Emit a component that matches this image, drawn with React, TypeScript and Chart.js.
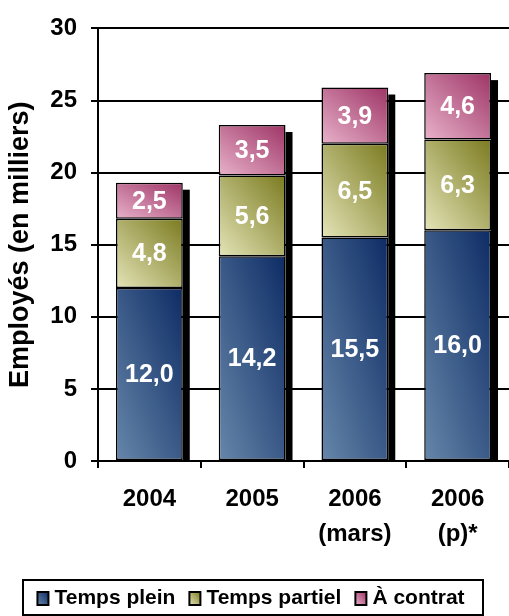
import { useEffect, useRef } from 'react';
import { Chart, registerables } from 'chart.js';

Chart.register(...registerables);

// Employment by status (thousands)
const years: (string | string[])[] = ['2004', '2005', ['2006', '(mars)'], ['2006', '(p)*']];
const tempsPlein = [12.0, 14.2, 15.5, 16.0];
const tempsPartiel = [4.8, 5.6, 6.5, 6.3];
const aContrat = [2.5, 3.5, 3.9, 4.6];
const seriesNames = ['Temps plein', 'Temps partiel', 'À contrat'];
const yTitle = 'Employés (en milliers)';

const series = [tempsPlein, tempsPartiel, aContrat];
// light (bottom-left) → dark (top-right) for each series
const palettes: [string, string][] = [
  ['#6687aa', '#0e2c65'],
  ['#e4e4b8', '#7b7b20'],
  ['#e8b2ca', '#9e3466'],
];

const FONT = "'Liberation Sans', Arial, Helvetica, sans-serif";
const BAR_FRACTION = 0.65;

// Diagonal gradient mapped to a box: 0 at bottom-left corner, 1 at top-right corner
function boxGradient(c: CanvasRenderingContext2D, left: number, top: number, w: number, h: number, light: string, dark: string) {
  const a = 1 / (w * w) + 1 / (h * h);
  const t = 2 / a;
  const x0 = left;
  const y0 = top + h;
  const g = c.createLinearGradient(x0, y0, x0 + t / w, y0 - t / h);
  g.addColorStop(0, light);
  g.addColorStop(1, dark);
  return g;
}

function segmentFill(d: number) {
  return (ctx: any) => {
    const chart = ctx.chart;
    const xs = chart.scales?.x;
    const ys = chart.scales?.y;
    const [light, dark] = palettes[d];
    if (!xs || !ys || ctx.type !== 'data' || !chart.chartArea) return dark;
    const i = ctx.dataIndex;
    let base = 0;
    for (let k = 0; k < d; k++) base += series[k][i];
    const top = base + series[d][i];
    const cx = xs.getPixelForValue(i);
    const w = (xs.width / years.length) * BAR_FRACTION;
    const yTop = ys.getPixelForValue(top);
    const yBase = ys.getPixelForValue(base);
    return boxGradient(chart.ctx, cx - w / 2, yTop, w, Math.max(1, yBase - yTop), light, dark);
  };
}

const fmt = (v: number) => v.toFixed(1).replace('.', ',');

// Black drop shadow on the right side of each stacked column
const shadowPlugin = {
  id: 'columnShadow',
  beforeDatasetsDraw(chart: any) {
    const n = chart.data.datasets.length;
    const first = chart.getDatasetMeta(0);
    const last = chart.getDatasetMeta(n - 1);
    const c = chart.ctx as CanvasRenderingContext2D;
    c.save();
    c.fillStyle = '#000';
    last.data.forEach((bar: any, i: number) => {
      const { x, y, width } = bar.getProps(['x', 'y', 'width'], true);
      const { base } = first.data[i].getProps(['base'], true);
      const off = 7;
      c.fillRect(x + width / 2, y + off, off, base - y - off);
    });
    c.restore();
  },
};

// Values written in the middle of every segment
const valueLabelPlugin = {
  id: 'segmentValues',
  afterDatasetsDraw(chart: any) {
    const c = chart.ctx as CanvasRenderingContext2D;
    c.save();
    c.fillStyle = '#ffffff';
    c.font = `bold 25px ${FONT}`;
    c.textAlign = 'center';
    c.textBaseline = 'middle';
    chart.data.datasets.forEach((ds: any, d: number) => {
      const meta = chart.getDatasetMeta(d);
      meta.data.forEach((bar: any, i: number) => {
        const { x, y, base } = bar.getProps(['x', 'y', 'base'], true);
        c.fillText(fmt(ds.data[i]), x, (y + base) / 2 + 1);
      });
    });
    c.restore();
  },
};

// Boxed legend along the bottom
const boxedLegendPlugin = {
  id: 'boxedLegend',
  afterDraw(chart: any) {
    const c = chart.ctx as CanvasRenderingContext2D;
    const boxL = 23, boxR = 483, boxT = 580, boxB = 615;
    const midY = (boxT + boxB) / 2 + 1;
    c.save();
    c.lineWidth = 2;
    c.strokeStyle = '#000';
    c.fillStyle = '#fff';
    c.fillRect(boxL, boxT, boxR - boxL, boxB - boxT);
    c.strokeRect(boxL, boxT, boxR - boxL, boxB - boxT);
    c.font = `bold 21px ${FONT}`;
    c.textBaseline = 'middle';
    c.textAlign = 'left';
    const swW = 11, swH = 13, swGap = 6, itemGap = 14;
    const labels: string[] = chart.data.datasets.map((ds: any) => ds.label);
    const widths = labels.map((t) => c.measureText(t).width);
    const total = widths.reduce((a, b) => a + b, 0) + labels.length * (swW + swGap) + (labels.length - 1) * itemGap;
    let x = (boxL + boxR) / 2 - total / 2 - 2;
    labels.forEach((t, d) => {
      const [light, dark] = palettes[d];
      const sy = midY - swH / 2;
      c.fillStyle = boxGradient(c, x, sy, swW, swH, light, dark);
      c.fillRect(x, sy, swW, swH);
      c.lineWidth = 2;
      c.strokeStyle = '#000';
      c.strokeRect(x, sy, swW, swH);
      x += swW + swGap;
      c.fillStyle = '#000';
      c.fillText(t, x, midY);
      x += widths[d] + itemGap;
    });
    c.restore();
  },
};

export default function App() {
  const ref = useRef<HTMLCanvasElement | null>(null);

  useEffect(() => {
    if (!ref.current) return;
    const chart = new Chart(ref.current, {
      type: 'bar',
      data: {
        labels: years,
        datasets: series.map((data, d) => ({
          label: seriesNames[d],
          data,
          backgroundColor: segmentFill(d),
          borderColor: '#000',
          borderWidth: 1.5,
          borderSkipped: false,
          categoryPercentage: 1,
          barPercentage: BAR_FRACTION,
        })),
      },
      options: {
        animation: false,
        responsive: false,
        devicePixelRatio: 1,
        layout: { padding: { top: 23, right: 0, bottom: 55, left: 0 } },
        plugins: {
          legend: { display: false },
          tooltip: { enabled: false },
        },
        scales: {
          x: {
            stacked: true,
            offset: true,
            grid: {
              offset: true,
              drawOnChartArea: false,
              color: '#000',
              lineWidth: 2,
              tickLength: 7,
            },
            border: { display: true, color: '#000', width: 2 },
            ticks: {
              color: '#000',
              padding: 14,
              maxRotation: 0,
              autoSkip: false,
              font: { family: FONT, size: 24, weight: 'bold', lineHeight: 1.46 },
            },
            afterFit: (s: any) => {
              s.height = 100;
            },
          },
          y: {
            stacked: true,
            min: 0,
            max: 30,
            ticks: {
              stepSize: 5,
              color: '#000',
              padding: 14,
              font: { family: FONT, size: 24, weight: 'bold' },
            },
            grid: {
              color: '#000',
              lineWidth: 2,
              tickLength: 7,
            },
            border: { display: true, color: '#000', width: 2 },
            title: {
              display: true,
              text: yTitle,
              color: '#000',
              padding: { top: 4, bottom: 0 },
              font: { family: FONT, size: 27, weight: 'bold' },
            },
            afterFit: (s: any) => {
              s.width = 98;
            },
          },
        },
      },
      plugins: [shadowPlugin, valueLabelPlugin, boxedLegendPlugin],
    });
    return () => chart.destroy();
  }, []);

  return (
    <div style={{ position: 'absolute', left: 0, top: 0, width: 509, height: 616, background: '#fff' }}>
      <canvas ref={ref} width={509} height={616} style={{ display: 'block', width: 509, height: 616 }} />
    </div>
  );
}
